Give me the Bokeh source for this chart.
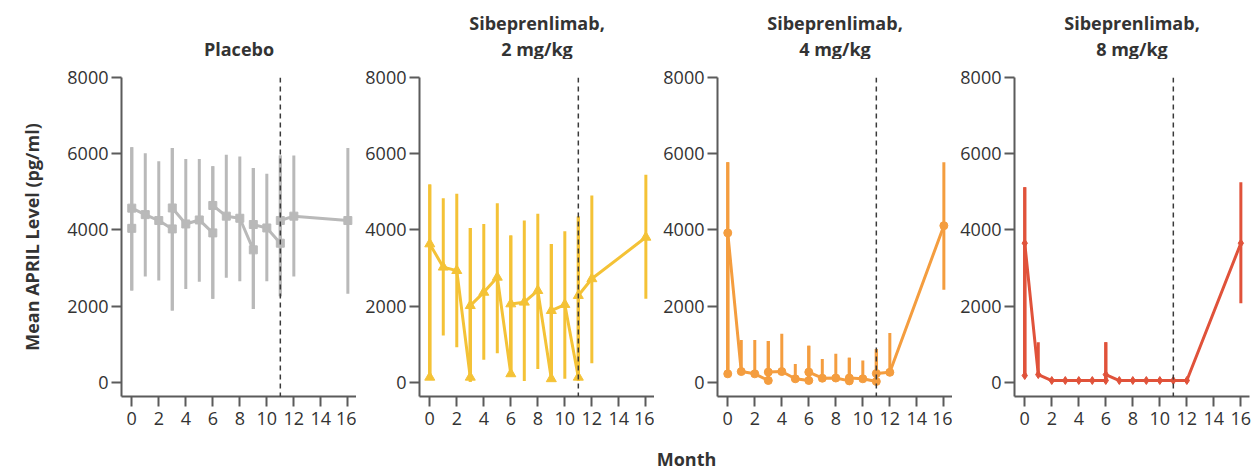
from bokeh.plotting import figure
from bokeh.layouts import row, column
from bokeh.models import Span, Label, FixedTicker
from bokeh.embed import file_html
from bokeh.resources import INLINE

# Mean serum APRIL (pg/ml) by study month. At dosing visits two values are
# listed (lower value first, then the higher one); the bars give the spread.
placebo_month = [0, 0, 1, 2, 3, 3, 4, 5, 6, 6, 7, 8, 9, 9, 10, 11, 11, 12, 16]
placebo_mean = [4040, 4570, 4400, 4245, 4025, 4575, 4155, 4260, 3920, 4640,
                4360, 4305, 3475, 4140, 4050, 3650, 4245, 4360, 4245]
placebo_lo = [2410, 2410, 2775, 2670, 1880, 1880, 2450, 2640, 2190, 2190,
              2740, 2650, 1925, 1925, 2650, 2260, 2260, 2775, 2320]
placebo_hi = [6170, 6170, 6010, 5800, 6150, 6150, 5860, 5860, 5670, 5670,
              5970, 5925, 5625, 5625, 5470, 5950, 5950, 5950, 6150]

mg2_month = [0, 0, 1, 2, 3, 3, 4, 5, 6, 6, 7, 8, 9, 9, 10, 11, 11, 12, 16]
mg2_mean = [130, 3630, 3020, 2930, 130, 2010, 2360, 2755, 220, 2055,
            2100, 2405, 90, 1880, 2040, 130, 2275, 2715, 3805]
mg2_lo = [130, 130, 1225, 920, 10, 10, 590, 760, 220, 220,
          30, 350, 40, 40, 90, 40, 40, 500, 2190]
mg2_hi = [5190, 5190, 4830, 4945, 4050, 4050, 4155, 4700, 3850, 3850,
          4245, 4420, 3630, 3630, 3965, 4350, 4350, 4900, 5450]

mg4_month = [0, 0, 1, 2, 3, 3, 4, 5, 6, 6, 7, 8, 9, 9, 10, 11, 11, 12, 16]
mg4_mean = [220, 3920, 280, 220, 45, 265, 280, 90, 45, 265,
            105, 110, 35, 110, 90, 20, 230, 260, 4110]
mg4_lo = [220, 220, 280, 220, 45, 45, 280, 90, 45, 45,
          105, 110, 35, 35, 90, 20, 20, 260, 2425]
mg4_hi = [5775, 5775, 1110, 1110, 1080, 1080, 1270, 480, 960, 960,
          610, 745, 640, 640, 570, 875, 875, 1290, 5775]

mg8_month = [0, 0, 1, 2, 3, 4, 5, 6, 6, 7, 8, 9, 10, 11, 12, 16]
mg8_mean = [175, 3650, 200, 45, 45, 45, 45, 45, 200, 45, 45, 45, 45, 45, 45, 3650]
mg8_lo = [175, 175, 200, 45, 45, 45, 45, 45, 45, 45, 45, 45, 45, 45, 45, 2075]
mg8_hi = [5120, 5120, 1050, 45, 45, 45, 45, 1050, 1050, 45, 45, 45, 45, 45, 45, 5250]

panel_titles = [["Placebo"], ["Sibeprenlimab,", "2 mg/kg"],
                ["Sibeprenlimab,", "4 mg/kg"], ["Sibeprenlimab,", "8 mg/kg"]]
x_ticks = [0, 2, 4, 6, 8, 10, 12, 14, 16]
y_ticks = [0, 2000, 4000, 6000, 8000]
end_of_treatment_month = 11

FONT = "Open Sans"
TEXT = "#333333"
AXIS = "#5b5b5b"

groups = [
    (placebo_month, placebo_mean, placebo_lo, placebo_hi, "#b9b9b9", "square", 8),
    (mg2_month, mg2_mean, mg2_lo, mg2_hi, "#f4c236", "triangle", 10),
    (mg4_month, mg4_mean, mg4_lo, mg4_hi, "#f49d3f", "circle", 8),
    (mg8_month, mg8_mean, mg8_lo, mg8_hi, "#e0523a", "diamond", 8),
]

# canvas widths / left borders so the four plot frames share one width
FRAME_W = 235
widths = [356, 298, 298, 306]
lefts = [121, 63, 63, 62]
rights = [0, 0, 0, 9]
PLOT_TOP = 77          # frame top, counted from the top of the page
PLOT_PAD = 18          # room above the frame for the top tick label
HEAD_H = PLOT_TOP - PLOT_PAD

X_RANGE = (-0.76, 16.64)
Y_RANGE = (-375, 8000)


def bare_figure(w, h):
    f = figure(width=w, height=h, x_range=(0, w), y_range=(0, h),
               output_backend="svg", toolbar_location=None,
               x_axis_type=None, y_axis_type=None,
               min_border=0, outline_line_color=None)
    f.grid.visible = False
    return f


def bold_label(x, y, txt):
    return Label(x=x, y=y, text=txt, text_align="center",
                 text_baseline="middle", text_font=FONT,
                 text_font_style="bold", text_font_size="18px",
                 text_color=TEXT)


heads = []
figs = []
for i, (mx, my, lo, hi, color, marker, msize) in enumerate(groups):
    # panel heading, centred over the plot frame
    h = bare_figure(widths[i], HEAD_H)
    lines = panel_titles[i]
    y_lines = [HEAD_H - 48] if len(lines) == 1 else [HEAD_H - 22, HEAD_H - 48]
    for txt, yy in zip(lines, y_lines):
        h.add_layout(bold_label(lefts[i] + FRAME_W / 2, yy, txt))
    heads.append(h)

    p = figure(width=widths[i], height=440 - HEAD_H, x_range=X_RANGE,
               y_range=Y_RANGE, output_backend="svg", toolbar_location=None,
               min_border_left=lefts[i], min_border_right=rights[i],
               min_border_top=PLOT_PAD, min_border_bottom=44)
    p.outline_line_color = None
    p.grid.visible = False
    p.background_fill_color = "white"
    p.border_fill_color = "white"

    p.segment(x0=mx, y0=lo, x1=mx, y1=hi, line_color=color, line_width=3)
    p.line(mx, my, line_color=color, line_width=3, line_join="round")
    p.scatter(mx, my, marker=marker, size=msize, fill_color=color,
              line_color=color)

    p.add_layout(Span(location=end_of_treatment_month, dimension="height",
                      line_color="#3a3a3a", line_width=1.5, line_dash="5 4"))

    for ax in (p.xaxis[0], p.yaxis[0]):
        ax.axis_line_color = AXIS
        ax.axis_line_width = 2
        ax.major_tick_line_color = AXIS
        ax.major_tick_line_width = 2
        ax.major_tick_out = 10
        ax.major_tick_in = 0
        ax.minor_tick_line_color = None
        ax.major_label_text_font = FONT
        ax.major_label_text_font_size = "18px"
        ax.major_label_text_color = TEXT
    p.xaxis.ticker = FixedTicker(ticks=x_ticks)
    p.yaxis.ticker = FixedTicker(ticks=y_ticks)
    p.xaxis.major_label_standoff = 5
    p.yaxis.major_label_standoff = 3

    if i == 0:
        p.yaxis.axis_label = "Mean APRIL Level (pg/ml)"
        p.yaxis.axis_label_text_font = FONT
        p.yaxis.axis_label_text_font_style = "bold"
        p.yaxis.axis_label_text_font_size = "18px"
        p.yaxis.axis_label_text_color = TEXT
        p.yaxis.axis_label_standoff = 20
    figs.append(p)

month_fig = bare_figure(1258, 30)
month_fig.add_layout(bold_label(686, 12, "Month"))

layout = column(row(*heads, spacing=0), row(*figs, spacing=0), month_fig,
                spacing=0)
open("out.html", "w").write(file_html(layout, INLINE))
